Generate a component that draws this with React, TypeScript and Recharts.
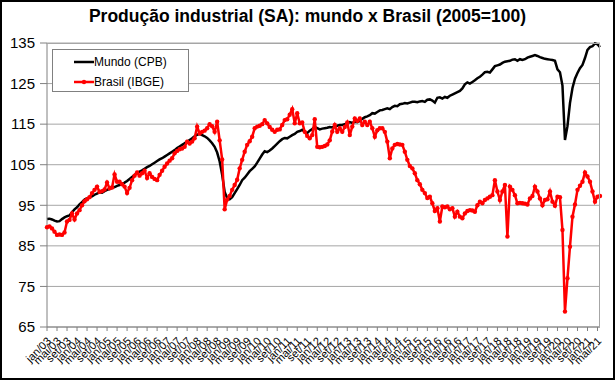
import React from "react";
import { LineChart, Line, XAxis, YAxis, CartesianGrid } from "recharts";

const MONTHS = ["jan", "fev", "mar", "abr", "mai", "jun", "jul", "ago", "set", "out", "nov", "dez"];
const FIRST_YEAR = 2003;

const mundo = [
  91.6, 91.7, 91.5, 91.2, 91.0, 91.1, 91.6, 92.0, 92.3, 92.5, 93.3, 94.0,
  94.5, 95.2, 95.8, 96.4, 96.7, 97.0, 97.2, 97.6, 97.9, 98.2, 98.1, 98.5,
  98.8, 99.0, 99.3, 99.5, 99.8, 100.0, 100.3, 100.6, 101.0, 101.5, 102.0, 102.5,
  103.0, 103.3, 103.6, 104.0, 104.4, 104.7, 105.1, 105.5, 105.9, 106.3, 106.6, 107.0,
  107.4, 107.8, 108.2, 108.6, 109.1, 109.5, 109.9, 110.3, 110.7, 111.1, 111.5, 112.0,
  112.4, 112.6, 112.3, 112.0, 111.6, 111.0, 110.3, 109.4, 108.0, 105.8, 102.5, 98.3,
  96.8, 96.5, 97.0, 98.0, 99.0, 100.0, 101.2, 101.8, 102.6, 103.4, 104.0, 104.6,
  105.5, 106.5, 107.5, 108.3, 108.1, 108.5, 109.0, 109.6, 110.2, 110.8, 111.3, 111.6,
  111.5, 111.9, 112.3, 112.6, 113.1, 113.3, 113.6, 113.1, 112.8, 113.4, 113.8, 114.3,
  114.0, 113.7, 113.9, 114.0, 114.1, 114.3, 114.2, 114.5, 114.6, 114.8, 114.8, 115.0,
  115.2, 115.5, 115.3, 115.6, 115.5, 115.8, 116.3, 116.7, 116.9, 117.2, 117.7, 117.6,
  118.0, 118.4, 118.5, 118.7, 118.9, 118.7, 119.2, 119.5, 119.4, 119.9, 120.0, 120.2,
  120.1, 120.3, 120.5, 120.5, 120.4, 120.6, 120.7, 120.5, 121.0, 121.1, 120.8, 120.3,
  121.5, 121.6, 121.3, 121.7, 121.5, 122.0, 122.3, 122.6, 122.9, 123.2, 123.8, 124.8,
  125.3, 125.0, 125.4, 125.8, 126.3, 126.7, 127.2, 127.8, 127.9, 127.7, 128.5, 129.3,
  129.5, 129.7, 130.1, 130.4, 130.5, 130.6, 130.9, 131.0, 130.6, 131.0, 130.8, 131.0,
  131.4, 131.6, 131.8, 132.0, 131.8, 131.5, 131.3, 131.1, 131.0, 130.9, 130.8, 130.6,
  128.5, 127.8, 124.5, 111.1, 114.5, 120.2, 123.9, 126.2, 127.6, 128.8, 129.6, 131.3,
  133.3, 134.0, 134.2, 134.9, 134.7, 134.0,
];

const brasil = [
  89.6, 89.8, 89.3, 88.5, 87.7, 87.8, 87.7, 88.3, 91.0, 91.4, 93.0, 91.5,
  93.0, 93.8, 95.0, 96.0, 96.5, 97.0, 98.0, 98.8, 99.6, 98.3, 98.5, 98.9,
  100.6, 99.2, 99.4, 102.6, 100.8, 100.8, 100.2, 99.6, 98.0, 99.3, 101.2, 102.3,
  103.1, 102.3, 102.9, 103.5, 101.7, 102.9, 102.0, 101.5, 101.2, 102.5, 103.5, 104.5,
  105.3, 106.0, 106.6, 107.8, 108.4, 108.8, 109.0, 109.4, 110.7, 110.2, 110.7, 111.5,
  114.4, 112.7, 113.1, 113.4, 114.0, 115.0, 114.5, 113.1, 115.6, 111.0, 106.3, 94.0,
  96.4, 97.3, 98.8, 100.0, 101.3, 104.1, 106.2, 108.2, 109.9, 110.8, 111.9, 114.0,
  114.4, 114.6, 115.0, 116.0, 115.2, 114.3, 113.6, 113.1, 113.6, 113.7, 114.8, 116.0,
  116.2, 117.3, 118.7, 115.2, 117.7, 115.2, 115.4, 113.1, 112.1, 111.5, 112.3, 116.2,
  109.4, 109.3, 109.4, 109.6, 110.0, 111.0, 113.2, 114.8, 113.1, 114.0, 113.1, 114.3,
  115.4, 112.3, 114.4, 116.4, 115.8, 116.4, 114.8, 115.6, 114.8, 115.6, 114.0, 111.9,
  113.5, 114.0, 114.0, 113.1, 110.7, 106.6, 109.0, 109.9, 110.1, 110.0, 109.9, 108.2,
  106.2, 104.7, 104.1, 102.9, 101.2, 100.2, 98.8, 98.0, 96.8, 97.1, 95.5, 93.6,
  94.3, 91.0, 94.7, 94.5, 94.7, 94.0, 94.3, 92.2, 93.4, 92.2, 91.8, 93.0,
  93.6, 93.8, 93.7, 93.4, 95.0, 95.9, 95.5, 96.3, 96.7, 97.1, 97.5, 101.2,
  98.4, 96.3, 98.4, 100.0, 87.3, 99.6, 98.8, 97.5, 95.5, 95.6, 95.5, 95.4,
  95.2, 96.7, 97.3, 99.6, 98.4, 96.7, 95.0, 96.3, 96.5, 98.4, 95.9, 94.9,
  97.1, 97.0, 88.9, 68.8, 77.0, 84.8, 92.2, 95.2, 98.8, 99.8, 100.8, 103.1,
  102.1, 100.8, 98.4, 95.9, 97.1, 97.3,
];

const yTicks = [65, 75, 85, 95, 105, 115, 125, 135];

const categories = mundo.map(
  (_, i) => `${MONTHS[i % 12]}/${String((FIRST_YEAR + Math.floor(i / 12)) % 100).padStart(2, "0")}`
);

const data = categories.map((label, i) => ({ label, mundo: mundo[i], brasil: brasil[i] }));

const FONT = "'Liberation Sans', Arial, sans-serif";

const XTick = (props: any) => {
  const { x, y, payload } = props;
  const ax = x + 2;
  const ay = y + 6;
  return (
    <text
      x={ax}
      y={ay}
      transform={`rotate(-45 ${ax} ${ay})`}
      textAnchor="end"
      fontSize={11}
      fontFamily={FONT}
      fill="#000"
      dy="0.35em"
    >
      {payload.value}
    </text>
  );
};

const RedDot = (props: any) => {
  const { cx, cy, index } = props;
  if (cx == null || cy == null) return null;
  return <circle key={index} cx={cx} cy={cy} r={2.2} fill="#ff0000" stroke="none" />;
};

export default function App() {
  return (
    <div style={{ position: "fixed", left: 0, top: 0, width: 615, height: 380, background: "#fff", fontFamily: FONT }}>
      <LineChart width={615} height={380} data={data} margin={{ top: 43, right: 15, left: 0, bottom: 0 }}>
        <CartesianGrid vertical={false} stroke="#a6a6a6" strokeWidth={1} />
        <XAxis
          dataKey="label"
          interval={3}
          height={53}
          tickSize={4}
          tickLine={{ stroke: "#808080" }}
          axisLine={{ stroke: "#808080" }}
          tick={<XTick />}
        />
        <YAxis
          domain={[65, 135]}
          ticks={yTicks}
          width={47}
          tickSize={7}
          tickMargin={5}
          tickLine={{ stroke: "#808080" }}
          axisLine={{ stroke: "#808080" }}
          tick={{ fontSize: 15, fill: "#000", fontFamily: FONT }}
          interval={0}
        />
        <Line
          type="linear"
          dataKey="mundo"
          stroke="#000"
          strokeWidth={2.5}
          dot={false}
          isAnimationActive={false}
        />
        <Line
          type="linear"
          dataKey="brasil"
          stroke="#ff0000"
          strokeWidth={2.5}
          dot={<RedDot />}
          isAnimationActive={false}
        />
      </LineChart>
      {/* plot area border */}
      <div style={{ position: "absolute", left: 47, top: 43, width: 553, height: 284, borderTop: "1px solid #a6a6a6", borderRight: "1px solid #a6a6a6", boxSizing: "border-box", pointerEvents: "none" }} />
      {/* title */}
      <div style={{ position: "absolute", left: 0, top: 6, width: 615, textAlign: "center", fontWeight: "bold", fontSize: 17.5, lineHeight: "20px", color: "#000", whiteSpace: "nowrap" }}>
        Produção industrial (SA): mundo x Brasil (2005=100)
      </div>
      {/* legend */}
      <div style={{ position: "absolute", left: 52, top: 49, width: 137, height: 43, border: "1px solid #808080", background: "#fff", boxSizing: "border-box", fontSize: 12, color: "#000" }}>
        <div style={{ position: "absolute", left: 21, top: 5, display: "flex", alignItems: "center", height: 14 }}>
          <svg width={20} height={10}>
            <line x1={0} y1={5} x2={20} y2={5} stroke="#000" strokeWidth={2.5} />
          </svg>
          <span>Mundo (CPB)</span>
        </div>
        <div style={{ position: "absolute", left: 21, top: 25, display: "flex", alignItems: "center", height: 14 }}>
          <svg width={20} height={10}>
            <line x1={0} y1={5} x2={20} y2={5} stroke="#ff0000" strokeWidth={2.5} />
            <circle cx={10} cy={5} r={2.2} fill="#ff0000" />
          </svg>
          <span>Brasil (IBGE)</span>
        </div>
      </div>
      {/* chart area border */}
      <div style={{ position: "absolute", left: 0, top: 0, width: 615, height: 380, border: "2px solid #000", boxSizing: "border-box", pointerEvents: "none" }} />
    </div>
  );
}
